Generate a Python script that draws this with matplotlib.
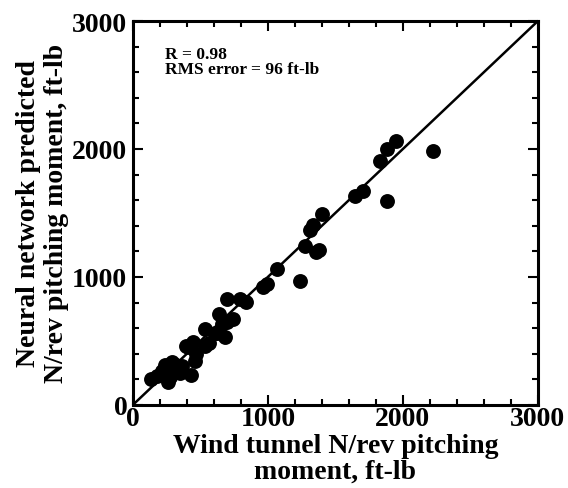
import matplotlib
matplotlib.use("Agg")
import matplotlib.pyplot as plt
from matplotlib.ticker import MultipleLocator

wind_tunnel = [133, 178, 215, 237, 289, 318, 274, 259, 348, 430, 393, 444, 459, 407,
               533, 533, 622, 637, 681, 659, 741, 696, 793, 837, 963, 993, 1067,
               1237, 1274, 1355, 1378, 1311, 1333, 1400, 1644, 1704, 1830, 1881,
               1948, 1881, 2222, 300, 360, 470, 560, 610, 700, 250]
neural_net = [203, 227, 266, 312, 336, 312, 219, 180, 250, 234, 461, 492, 344, 453,
              461, 594, 563, 711, 531, 633, 672, 828, 828, 805, 922, 945, 1063,
              969, 1242, 1195, 1211, 1367, 1406, 1492, 1633, 1672, 1906, 2000,
              2062, 1594, 1984, 280, 300, 400, 480, 560, 650, 290]

r_text = "R = 0.98\nRMS error = 96 ft-lb"
xlabel = "Wind tunnel N/rev pitching\nmoment, ft-lb"
ylabel = "Neural network predicted\nN/rev pitching moment, ft-lb"
ticks = [0, 1000, 2000, 3000]

plt.rcParams['font.family'] = ['Liberation Serif', 'DejaVu Serif']
plt.rcParams['font.weight'] = 'bold'

fig = plt.figure(figsize=(5.68, 4.89), dpi=100)
ax = fig.add_axes([0.234, 0.170, 0.713, 0.785])

ax.plot([0, 3000], [0, 3000], color='black', lw=1.8, zorder=1)
ax.scatter(wind_tunnel, neural_net, s=115, color='black', zorder=2, linewidths=0)

ax.set_xlim(0, 3000)
ax.set_ylim(0, 3000)
ax.set_xticks(ticks)
ax.set_yticks(ticks)
ax.xaxis.set_minor_locator(MultipleLocator(200))
ax.yaxis.set_minor_locator(MultipleLocator(200))
ax.tick_params(which='both', direction='in', top=True, right=True, width=1.5)
ax.tick_params(which='major', length=7, labelsize=20)
ax.tick_params(axis='x', which='major', pad=1)
ax.tick_params(axis='y', which='major', pad=4)
ax.tick_params(which='minor', length=4)
for lab in ax.get_xticklabels() + ax.get_yticklabels():
    lab.set_fontweight('bold')
for s in ax.spines.values():
    s.set_linewidth(2.2)

ax.text(0.08, 0.935, r_text, transform=ax.transAxes, fontsize=12.5,
        fontweight='bold', va='top', ha='left', linespacing=0.95)

ax.set_xlabel(xlabel, fontsize=20, fontweight='bold', labelpad=1, linespacing=1.05)
ax.set_ylabel(ylabel, fontsize=20, fontweight='bold', labelpad=2, linespacing=1.2)

fig.savefig("out.png", dpi=100)
